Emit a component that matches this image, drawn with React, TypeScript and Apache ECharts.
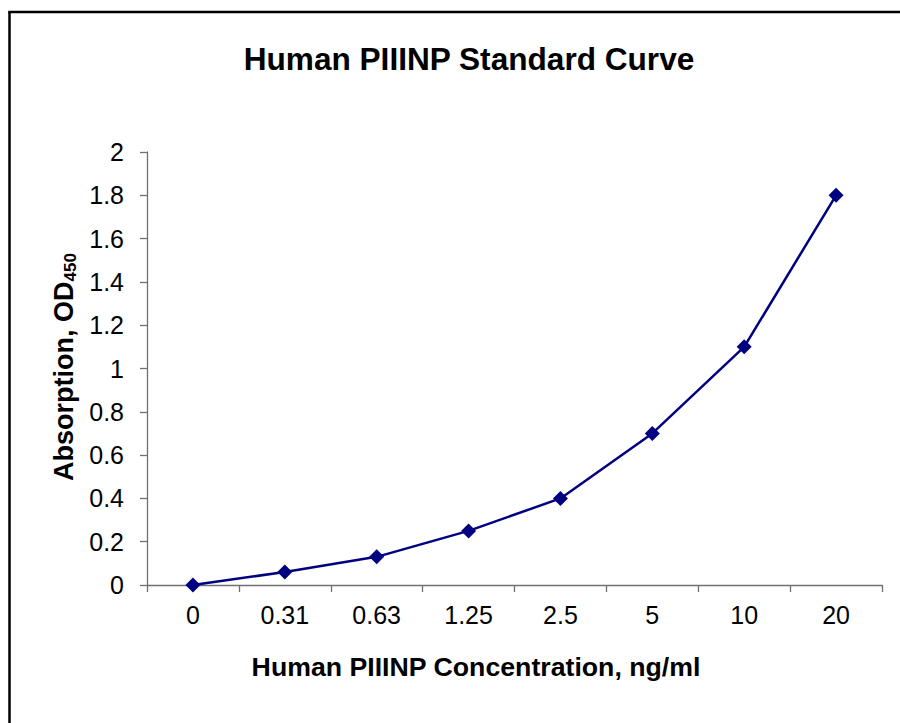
import React, { useEffect, useRef } from "react";
import * as echarts from "echarts";

const categories = ["0", "0.31", "0.63", "1.25", "2.5", "5", "10", "20"];
const odValues = [0, 0.06, 0.13, 0.25, 0.4, 0.7, 1.1, 1.8];
const titleText = "Human PIIINP Standard Curve";
const xAxisTitle = "Human PIIINP Concentration, ng/ml";
const yAxisTitleMain = "Absorption, OD";
const yAxisTitleSub = "450";

const FONT = "'Liberation Sans', Arial, sans-serif";

export default function App() {
  const ref = useRef<HTMLDivElement>(null);
  useEffect(() => {
    if (!ref.current) return;
    const chart = echarts.init(ref.current, null, { renderer: "svg" });
    chart.setOption({
      animation: false,
      backgroundColor: "#ffffff",
      textStyle: { fontFamily: FONT },
      grid: { left: 147, right: 18, top: 152, bottom: 138, containLabel: false },
      xAxis: {
        type: "category",
        data: categories,
        boundaryGap: true,
        axisLine: { show: true, lineStyle: { color: "#707070", width: 1.3 } },
        axisTick: { show: true, length: 7, alignWithLabel: false, lineStyle: { color: "#707070", width: 1.3 } },
        axisLabel: { color: "#000", fontSize: 25, fontFamily: FONT, margin: 17 },
        splitLine: { show: false },
      },
      yAxis: {
        type: "value",
        min: 0,
        max: 2,
        interval: 0.2,
        axisLine: { show: true, lineStyle: { color: "#707070", width: 1.3 } },
        axisTick: { show: true, length: 7, lineStyle: { color: "#707070", width: 1.3 } },
        axisLabel: { color: "#000", fontSize: 25, fontFamily: FONT, margin: 23 },
        splitLine: { show: false },
      },
      series: [
        {
          type: "line",
          data: odValues,
          symbol: "diamond",
          symbolSize: 15,
          lineStyle: { color: "#000080", width: 2.5 },
          itemStyle: { color: "#000080" },
        },
      ],
      graphic: [
        {
          type: "line",
          shape: { x1: 9.5, y1: 12, x2: 9.5, y2: 730 },
          style: { stroke: "#000", lineWidth: 2.5 },
          silent: true,
        },
        {
          type: "line",
          shape: { x1: 8.25, y1: 12, x2: 905, y2: 12 },
          style: { stroke: "#000", lineWidth: 2.5 },
          silent: true,
        },
        {
          type: "text",
          x: 469,
          y: 59,
          style: {
            text: titleText,
            fontFamily: FONT,
            fontWeight: "bold",
            fontSize: 31.6,
            fill: "#000",
            align: "center",
            verticalAlign: "middle",
          },
        },
        {
          type: "text",
          x: 476,
          y: 667,
          style: {
            text: xAxisTitle,
            fontFamily: FONT,
            fontWeight: "bold",
            fontSize: 26.7,
            fill: "#000",
            align: "center",
            verticalAlign: "middle",
          },
        },
        {
          type: "text",
          x: 64,
          y: 367,
          rotation: Math.PI / 2,
          style: {
            text: "{a|" + yAxisTitleMain + "}{s|" + yAxisTitleSub + "}",
            fontFamily: FONT,
            fill: "#000",
            align: "center",
            verticalAlign: "middle",
            rich: {
              a: { fontFamily: FONT, fontWeight: "bold", fontSize: 27, lineHeight: 30, verticalAlign: "middle", fill: "#000" },
              s: { fontFamily: FONT, fontWeight: "bold", fontSize: 17, lineHeight: 17, verticalAlign: "bottom", fill: "#000" },
            },
          },
        },
      ],
    });
    return () => chart.dispose();
  }, []);
  return (
    <div
      ref={ref}
      style={{ position: "fixed", left: 0, top: 0, width: 900, height: 723 }}
    />
  );
}
